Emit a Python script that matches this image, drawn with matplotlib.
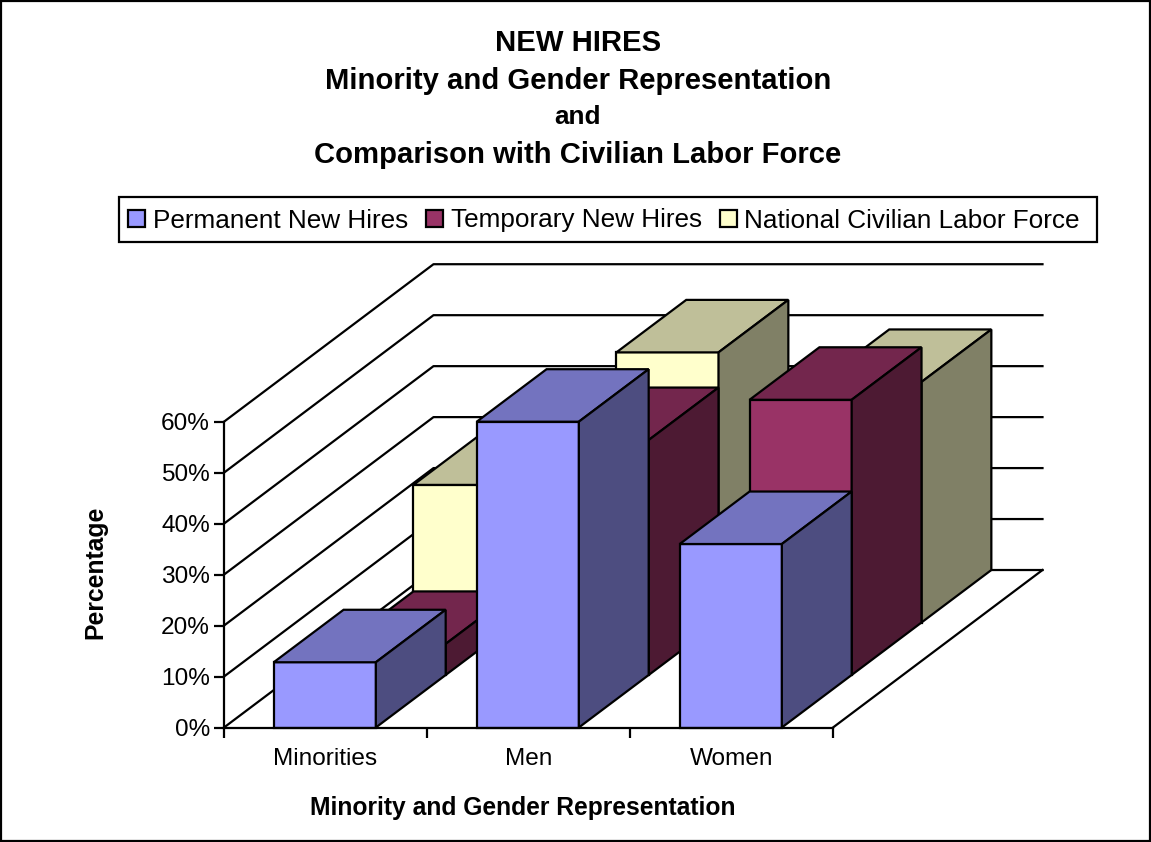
#!/usr/bin/env python
# coding=utf-8
import matplotlib
matplotlib.use("Agg")
import matplotlib.pyplot as plt
from matplotlib.patches import Patch, Polygon, Rectangle

plt.rcParams['font.family'] = ['Liberation Sans', 'DejaVu Sans']

categories = ['Minorities', 'Men', 'Women']
permanent = [12.8, 60, 36]
temporary = [6.1, 46.1, 54]
labor_force = [27, 53, 47.2]
series_names = ['Permanent New Hires', 'Temporary New Hires', 'National Civilian Labor Force']
pct_ticks = [0, 10, 20, 30, 40, 50, 60]

W, H = 1151, 842
LW = 1.6
# colours of each series: front, top, side
faces = [('#9999FF', '#7373BF', '#4D4D80'),
         ('#993366', '#73264D', '#4D1A33'),
         ('#FFFFCC', '#BFBF99', '#808066')]

fig = plt.figure(figsize=(W / 100, H / 100), dpi=100)
fig.patch.set_facecolor('white')
fig.add_artist(Rectangle((1 / W, 1 / H), 1149 / W, 840 / H, transform=fig.transFigure,
                         fill=False, edgecolor='black', linewidth=LW))

# axes box is the front plane of the 3D chart
left, right, top, bottom = 224, 833, 421.7, 727.5
ax = fig.add_axes([left / W, 1 - bottom / H, (right - left) / W, (bottom - top) / H])
ax.set_xlim(0, 3)
ax.set_ylim(0, 60)
ax.patch.set_alpha(0)

# oblique projection: whole depth of the floor, in data units
depth_x = 209.5 / 203
depth_y = 30.9


def proj(x, y, d):
    return (x + d * depth_x, y + d * depth_y)


# walls and floor
for v in pct_ticks:
    xs, ys = zip(proj(0, v, 0), proj(0, v, 1), proj(3, v, 1))
    ax.plot(xs, ys, color='black', lw=LW, clip_on=False, zorder=1)
xs, ys = zip(proj(3, 0, 0), proj(3, 0, 1))
ax.plot(xs, ys, color='black', lw=LW, clip_on=False, zorder=1)

# bars, back series first
all_series = [permanent, temporary, labor_force]
for s in [2, 1, 0]:
    d0, d1 = s / 3, (s + 1) / 3
    front, upper, side = faces[s]
    for i, val in enumerate(all_series[s]):
        x0, x1 = i + 0.245, i + 0.748
        quads = [
            ([proj(x0, 0, d0), proj(x1, 0, d0), proj(x1, val, d0), proj(x0, val, d0)], front),
            ([proj(x0, val, d0), proj(x1, val, d0), proj(x1, val, d1), proj(x0, val, d1)], upper),
            ([proj(x1, 0, d0), proj(x1, 0, d1), proj(x1, val, d1), proj(x1, val, d0)], side),
        ]
        for pts, col in quads:
            ax.add_patch(Polygon(pts, closed=True, facecolor=col, edgecolor='black',
                                 linewidth=LW, joinstyle='miter', clip_on=False, zorder=2))

for name in ['top', 'right']:
    ax.spines[name].set_visible(False)
for name in ['left', 'bottom']:
    ax.spines[name].set_linewidth(LW)
    ax.spines[name].set_zorder(3)

ax.set_yticks(pct_ticks)
ax.set_yticklabels([f'{v}%' for v in pct_ticks], fontsize=17.6)
ax.tick_params(axis='y', length=7, width=LW, pad=3)
ax.set_xticks([0, 1, 2, 3])
ax.set_xticklabels([])
ax.set_xticks([0.5, 1.5, 2.5], minor=True)
ax.set_xticklabels(categories, minor=True, fontsize=17.6)
ax.tick_params(axis='x', which='major', length=7, width=LW)
ax.tick_params(axis='x', which='minor', length=0, pad=15)

ax.set_xlabel('Minority and Gender Representation', fontsize=17.7, fontweight='bold')
ax.xaxis.set_label_coords((523 - left) / (right - left), -(796 - bottom) / (bottom - top))
ax.set_ylabel('Percentage', fontsize=17.8, fontweight='bold')
ax.yaxis.set_label_coords(-(224 - 107) / (right - left), 0.507)

# title lines
titles = ['NEW HIRES', 'Minority and Gender Representation', 'and', 'Comparison with Civilian Labor Force']
title_y = [43, 81, 117, 155]
title_size = [21.1, 21.1, 18.8, 21.1]
for t, y, sz in zip(titles, title_y, title_size):
    fig.text(578 / W, 1 - y / H, t, ha='center', va='center', fontsize=sz, fontweight='bold')

# legend box is wider on the right than its entries, so frame it separately
fig.add_artist(Rectangle((118.5 / W, 1 - 242 / H), 978.5 / W, 45 / H, transform=fig.transFigure,
                         fill=False, edgecolor='black', linewidth=LW))
handles = [Patch(facecolor=faces[i][0], edgecolor='black', linewidth=LW) for i in range(3)]
fig.legend(handles, series_names, ncol=3, loc='center',
           bbox_to_anchor=(604 / W, 1 - 220.5 / H), fontsize=18.8,
           frameon=False, handlelength=0.65, handleheight=0.65, handletextpad=0.3,
           columnspacing=0.68, borderpad=0.4, borderaxespad=0)

fig.savefig('out.png', dpi=100)
